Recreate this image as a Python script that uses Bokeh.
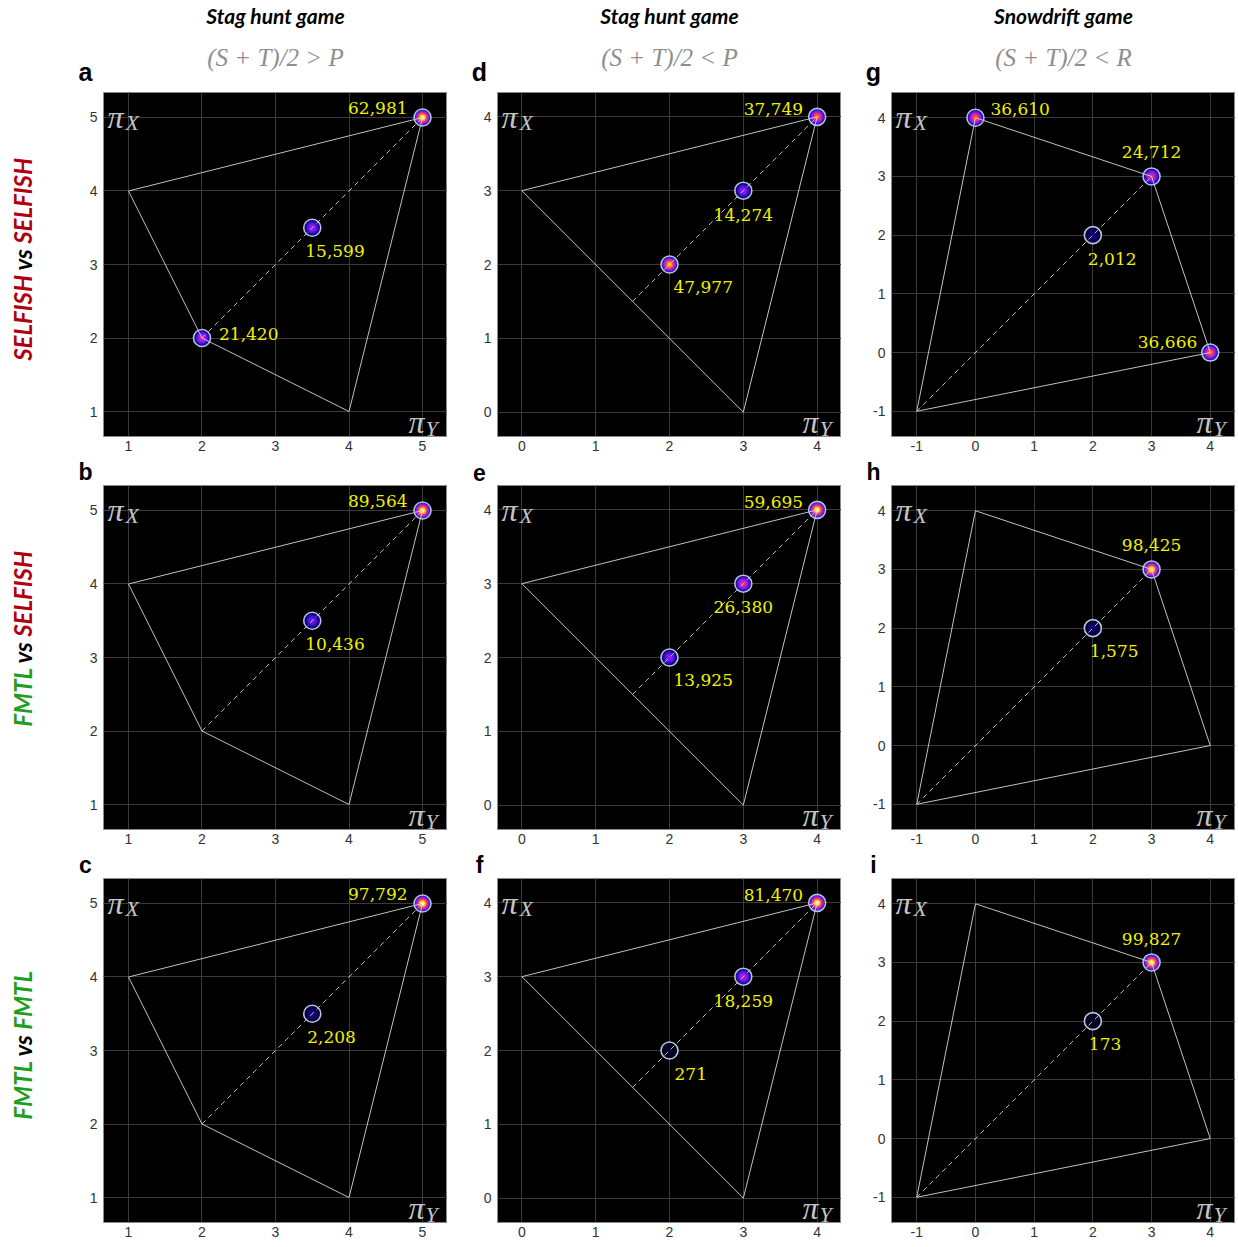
import numpy as np
from bokeh.plotting import figure
from bokeh.models import Label, Range1d, FixedTicker, ColumnDataSource
from bokeh.layouts import column, row
from bokeh.embed import file_html
from bokeh.resources import INLINE
from bokeh.core.properties import value

# ---------------- data ----------------
game_titles = ["Stag hunt game", "Stag hunt game", "Snowdrift game"]
game_conditions = ["(S + T)/2 > P", "(S + T)/2 < P", "(S + T)/2 < R"]
R_vals = [5, 4, 3]
S_vals = [1, 0, 0]
T_vals = [4, 3, 4]
P_vals = [2, 2, -1]
diag_start = [2, 1.5, -1]
axis_ticks = [[1, 2, 3, 4, 5], [0, 1, 2, 3, 4], [-1, 0, 1, 2, 3, 4]]
axis_lo = [0.66, -0.33, -1.43]
axis_hi = [5.34, 4.33, 4.43]

row_players = [("SELFISH", "SELFISH"), ("FMTL", "SELFISH"), ("FMTL", "FMTL")]
panel_letters = [["a", "b", "c"], ["d", "e", "f"], ["g", "h", "i"]]

# outcome points per panel [column][row]
pts_x = [
    [[5, 3.5, 2], [5, 3.5], [5, 3.5]],
    [[4, 3, 2], [4, 3, 2], [4, 3, 2]],
    [[0, 3, 2, 4], [3, 2], [3, 2]],
]
pts_y = [
    [[5, 3.5, 2], [5, 3.5], [5, 3.5]],
    [[4, 3, 2], [4, 3, 2], [4, 3, 2]],
    [[4, 3, 2, 0], [3, 2], [3, 2]],
]
counts = [
    [[62981, 15599, 21420], [89564, 10436], [97792, 2208]],
    [[37749, 14274, 47977], [59695, 26380, 13925], [81470, 18259, 271]],
    [[36610, 24712, 2012, 36666], [98425, 1575], [99827, 173]],
]

# label placement (pixel offsets, alignment) -- styling only
lab_place = [
    [[(-15, -9, "right"), (-7, 23, "left"), (17, -4, "left")],
     [(-15, -9, "right"), (-7, 23, "left")],
     [(-15, -9, "right"), (-5, 23, "left")]],
    [[(-14, -8, "right"), (0, 24, "center"), (4, 22, "left")],
     [(-14, -8, "right"), (0, 23, "center"), (4, 22, "left")],
     [(-14, -8, "right"), (0, 24, "center"), (5, 23, "left")]],
    [[(15, -9, "left"), (0, -24, "center"), (-5, 24, "left"), (-13, -11, "right")],
     [(0, -24, "center"), (-3, 23, "left")],
     [(0, -23, "center"), (-4, 23, "left")]],
]

RED = "#b0000f"
GREEN = "#1f9e1f"
player_color = {"SELFISH": RED, "FMTL": GREEN}

# ---------------- layout constants ----------------
FRAME = 344
STRIP_W = 80
BORDER_L = [23, 50, 50]
BORDER_B = 22
HEADER_H = 92
GAP_H = 27
TOTAL_W = STRIP_W + sum(BORDER_L) + 3 * FRAME
frame_left = []
acc = STRIP_W
for bl in BORDER_L:
    acc += bl
    frame_left.append(acc)
    acc += FRAME

# heat colormap
stops = np.array([0.0, 0.15, 0.3, 0.45, 0.6, 0.75, 0.88, 1.0])
cols = np.array([
    [0, 0, 0], [20, 0, 120], [70, 20, 230], [140, 30, 240],
    [230, 40, 130], [255, 100, 40], [255, 220, 40], [255, 255, 235]])


def cmap(v):
    v = float(np.clip(v, 0, 1))
    rgb = [np.interp(v, stops, cols[:, k]) for k in range(3)]
    return "#%02x%02x%02x" % tuple(int(round(c)) for c in rgb)


def hull(points):
    pts = sorted(set(points))

    def cross(o, a, b):
        return (a[0]-o[0])*(b[1]-o[1]) - (a[1]-o[1])*(b[0]-o[0])
    lower, upper = [], []
    for pt in pts:
        while len(lower) >= 2 and cross(lower[-2], lower[-1], pt) <= 0:
            lower.pop()
        lower.append(pt)
    for pt in reversed(pts):
        while len(upper) >= 2 and cross(upper[-2], upper[-1], pt) <= 0:
            upper.pop()
        upper.append(pt)
    h = lower[:-1] + upper[:-1]
    return h + [h[0]]


def text_canvas(w, h):
    c = figure(width=w, height=h, x_range=Range1d(0, w), y_range=Range1d(0, h),
               output_backend="svg", toolbar_location=None,
               x_axis_type=None, y_axis_type=None,
               background_fill_color="white", border_fill_color="white",
               outline_line_color=None)
    c.min_border = 0
    return c


def make_panel(ci, ri):
    lo, hi = axis_lo[ci], axis_hi[ci]
    p = figure(frame_width=FRAME, frame_height=FRAME,
               x_range=Range1d(lo, hi), y_range=Range1d(lo, hi),
               output_backend="svg", toolbar_location=None,
               background_fill_color="black", border_fill_color="white",
               outline_line_color="#8a8a8a")
    p.min_border = 0
    p.min_border_left = BORDER_L[ci]
    p.min_border_right = 0
    p.min_border_top = 0
    p.min_border_bottom = BORDER_B

    overrides = {t: str(t) for t in axis_ticks[ci]}
    for ax in (p.xaxis[0], p.yaxis[0]):
        ax.ticker = FixedTicker(ticks=axis_ticks[ci])
        ax.major_label_overrides = overrides
        ax.axis_line_color = None
        ax.major_tick_line_color = None
        ax.minor_tick_line_color = None
        ax.major_tick_out = 0
        ax.major_tick_in = 0
        ax.minor_tick_out = 0
        ax.minor_tick_in = 0
        ax.major_label_text_font = "Liberation Sans"
        ax.major_label_text_font_size = "14px"
        ax.major_label_text_color = "#333333"
    p.xaxis.major_label_standoff = 4
    p.yaxis.major_label_standoff = 6
    p.grid.grid_line_color = "#3a3a3a"
    p.grid.grid_line_width = 1

    R, S, T, P = R_vals[ci], S_vals[ci], T_vals[ci], P_vals[ci]
    h = hull([(R, R), (S, T), (T, S), (P, P)])
    hx = [q[0] for q in h]
    hy = [q[1] for q in h]

    xs, ys, cs = pts_x[ci][ri], pts_y[ci][ri], counts[ci][ri]
    strength = [min(1.0, np.sqrt(c / 60000.0)) for c in cs]
    for r in np.arange(7.5, 0.0, -0.5):
        prof = np.exp(-0.5 * (r / 5.0) ** 2)
        colors = [cmap(s * prof) for s in strength]
        p.scatter(x=xs, y=ys, size=2 * r, fill_color=colors, line_color=None)

    p.line(hx, hy, line_color="#d6d6d6", line_width=1, line_alpha=0.9)
    p.line([diag_start[ci], R], [diag_start[ci], R], line_color="#bdbdbd",
           line_width=1, line_dash="5 4")

    p.scatter(x=xs, y=ys, size=17, fill_color=None, line_color="#aec3ea",
              line_width=1.6)

    # count labels
    pl = lab_place[ci][ri]
    for al in ("left", "right", "center"):
        idx = [k for k in range(len(xs)) if pl[k][2] == al]
        if not idx:
            continue
        src = ColumnDataSource(dict(
            x=[xs[k] for k in idx], y=[ys[k] for k in idx],
            t=["{:,}".format(cs[k]) for k in idx],
            dx=[pl[k][0] for k in idx], dy=[pl[k][1] for k in idx]))
        p.text(x="x", y="y", text="t", x_offset="dx", y_offset="dy",
               source=src, text_align=al, text_baseline="middle",
               text_color="#f0f000", text_font=value("DejaVu Serif"),
               text_font_size="17px")

    # pi_X and pi_Y
    gray = "#c4c4c4"
    pi_font = "Liberation Serif"
    p.add_layout(Label(x=4, y=FRAME - 24, x_units="screen", y_units="screen",
                       text="π", text_font=pi_font, text_font_style="italic",
                       text_font_size="32px", text_color=gray,
                       text_baseline="alphabetic"))
    p.add_layout(Label(x=22, y=FRAME - 30, x_units="screen", y_units="screen",
                       text="X", text_font=pi_font, text_font_style="italic",
                       text_font_size="22px", text_color=gray,
                       text_baseline="alphabetic"))
    p.add_layout(Label(x=FRAME - 39, y=15, x_units="screen", y_units="screen",
                       text="π", text_font=pi_font, text_font_style="italic",
                       text_font_size="32px", text_color=gray,
                       text_baseline="alphabetic"))
    p.add_layout(Label(x=FRAME - 22, y=8, x_units="screen", y_units="screen",
                       text="Y", text_font=pi_font, text_font_style="italic",
                       text_font_size="22px", text_color=gray,
                       text_baseline="alphabetic"))
    return p


def letter_label(x, y, t, size="25px"):
    return Label(x=x, y=y, text=t, text_font="Liberation Sans",
                 text_font_style="bold", text_font_size=size,
                 text_color="black", text_align="center",
                 text_baseline="middle")


# header band: column titles, conditions, top letters
header = text_canvas(TOTAL_W, HEADER_H)
for ci in range(3):
    cx = frame_left[ci] + FRAME / 2
    header.add_layout(Label(x=cx, y=HEADER_H - 15, text=game_titles[ci],
                            text_font="Lato", text_font_style="bold italic",
                            text_font_size="21px", text_color="black",
                            text_align="center", text_baseline="middle"))
    header.add_layout(Label(x=cx, y=HEADER_H - 57, text=game_conditions[ci],
                            text_font="Liberation Serif", text_font_style="italic",
                            text_font_size="25px", text_color="#8e8e8e",
                            text_align="center", text_baseline="middle"))
    header.add_layout(letter_label(frame_left[ci] - 18, 21, panel_letters[ci][0]))

blocks = [header]
for ri in range(3):
    strip = text_canvas(STRIP_W, FRAME + BORDER_B)
    a, b = row_players[ri]
    cy = FRAME + BORDER_B - FRAME / 2
    common = dict(x=22, angle=np.pi / 2, text_font="Lato",
                  text_font_style="bold italic", text_font_size="24px",
                  text_baseline="middle")
    strip.add_layout(Label(y=cy - 22, text=a, text_color=player_color[a],
                           text_align="right", **common))
    strip.add_layout(Label(y=cy - 6, text="vs", text_color="black",
                           text_align="center", **common))
    strip.add_layout(Label(y=cy + 11, text=b, text_color=player_color[b],
                           text_align="left", **common))
    blocks.append(row(strip, *[make_panel(ci, ri) for ci in range(3)]))
    if ri < 2:
        gap = text_canvas(TOTAL_W, GAP_H)
        for ci in range(3):
            gap.add_layout(letter_label(frame_left[ci] - 18, 13.5,
                                        panel_letters[ci][ri + 1], "23px"))
        blocks.append(gap)

layout = column(*blocks)

open("out.html", "w").write(file_html(layout, INLINE))
